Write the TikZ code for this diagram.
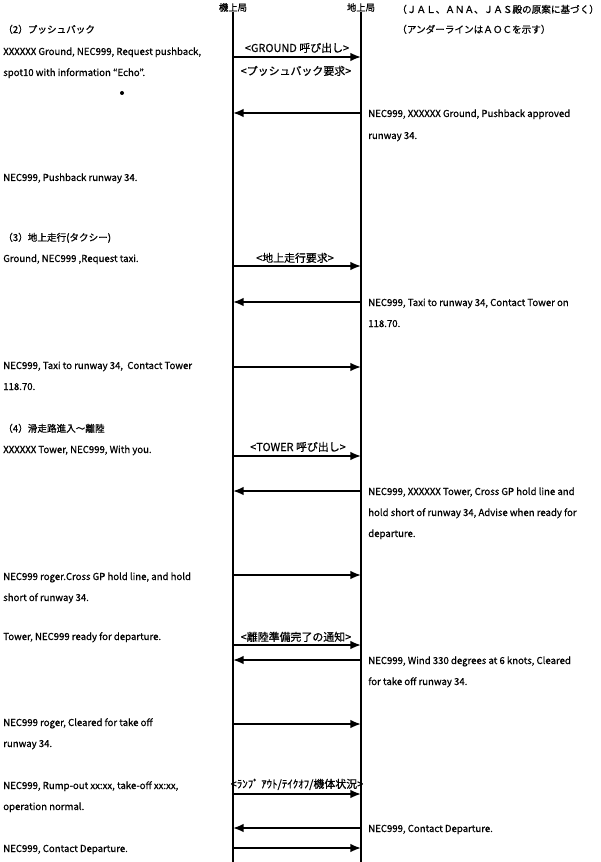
\documentclass[tikz,border=0pt]{standalone}
\usepackage{fontspec}
\setmainfont{Noto Sans CJK JP}[FakeBold=0.7]
\usetikzlibrary{arrows.meta}

\begin{document}
\begin{tikzpicture}[x=0.75pt,y=-0.75pt,
  txt/.style={anchor=base west,inner sep=0pt,font=\fontsize{7.2pt}{8pt}\selectfont},
  lbl/.style={anchor=base,inner sep=0pt,font=\fontsize{8.2pt}{9pt}\selectfont},
  head/.style={anchor=base,inner sep=0pt,font=\fontsize{7pt}{8pt}\selectfont},
  life/.style={line width=1.2pt},
  sig/.style={line width=1.4pt,-{Latex[length=8pt,width=6.5pt]}}]

\useasboundingbox (0,0) rectangle (600,862);

% Stations
\node[head] (air) at (233,11) {機上局};
\node[head] (gnd) at (361,11) {地上局};
\node[txt] (note1) at (397,13) {（ＪＡＬ、ＡＮＡ、ＪＡＳ殿の原案に基づく）};
\node[txt] (note2) at (397,33) {（アンダーラインはＡＯＣを示す）};

% Lifelines
\draw[life] (air.south) -- (air.south |- 0,862);
\draw[life] (gnd.south) -- (gnd.south |- 0,862);

% (2) Pushback
\node[txt] (h2) at (3,33) {（2）プッシュバック};
\node[txt] (m1a) at (3,55) {XXXXXX Ground, NEC999, Request pushback,};
\node[txt] (m1b) at (3,76) {spot10 with information “Echo”.};
\fill (122,93) circle (2);
\node[lbl] (l1) at (297,52) {<GROUND 呼び出し>};
\draw[sig] (air |- 0,57) -- (gnd |- 0,57);
\node[lbl] (l2) at (296,75) {<プッシュバック要求>};

\draw[sig] (gnd |- 0,113) -- (air |- 0,113);
\node[txt] (m2a) at (368,117) {NEC999, XXXXXX Ground, Pushback approved};
\node[txt] (m2b) at (368,139) {runway 34.};

\node[txt] (m3) at (3,181) {NEC999, Pushback runway 34.};

% (3) Taxi
\node[txt] (h3) at (3,241) {（3）地上走行(タクシー)};
\node[txt] (m4) at (3,262) {Ground, NEC999 ,Request taxi.};
\node[lbl] (l3) at (295,262) {<地上走行要求>};
\draw[sig] (air |- 0,266) -- (gnd |- 0,266);

\draw[sig] (gnd |- 0,302) -- (air |- 0,302);
\node[txt] (m5a) at (368,306) {NEC999, Taxi to runway 34, Contact Tower on};
\node[txt] (m5b) at (368,327) {118.70.};

\node[txt] (m6a) at (3,369) {NEC999, Taxi to runway 34,\ \ Contact Tower};
\node[txt] (m6b) at (3,390) {118.70.};
\draw[sig] (air |- 0,367) -- (gnd |- 0,367);

% (4) Line up - take off
\node[txt] (h4) at (3,432) {（4）滑走路進入～離陸};
\node[txt] (m7) at (3,453) {XXXXXX Tower, NEC999, With you.};
\node[lbl] (l4) at (298,451) {<TOWER 呼び出し>};
\draw[sig] (air |- 0,456) -- (gnd |- 0,456);

\draw[sig] (gnd |- 0,491) -- (air |- 0,491);
\node[txt] (m8a) at (368,495) {NEC999, XXXXXX Tower, Cross GP hold line and};
\node[txt] (m8b) at (368,516) {hold short of runway 34, Advise when ready for};
\node[txt] (m8c) at (368,537) {departure.};

\node[txt] (m9a) at (3,580) {NEC999 roger.Cross GP hold line, and hold};
\node[txt] (m9b) at (3,601) {short of runway 34.};
\draw[sig] (air |- 0,575) -- (gnd |- 0,575);

\node[txt] (m10) at (3,640) {Tower, NEC999 ready for departure.};
\node[lbl] (l5) at (296,641) {<離陸準備完了の通知>};
\draw[sig] (air |- 0,645) -- (gnd |- 0,645);

\draw[sig] (gnd |- 0,660) -- (air |- 0,660);
\node[txt] (m11a) at (368,664) {NEC999, Wind 330 degrees at 6 knots, Cleared};
\node[txt] (m11b) at (368,685) {for take off runway 34.};

\node[txt] (m12a) at (3,726) {NEC999 roger, Cleared for take off};
\node[txt] (m12b) at (3,747) {runway 34.};
\draw[sig] (air |- 0,724) -- (gnd |- 0,724);

\node[txt] (m13a) at (3,789) {NEC999, Rump-out xx:xx, take-off xx:xx,};
\node[txt] (m13b) at (3,810) {operation normal.};
\node[lbl] (l6) at (297,788) {<ﾗﾝﾌﾟ ｱｳﾄ/ﾃｲｸｵﾌ/機体状況>};
\draw[sig] (air |- 0,794) -- (gnd |- 0,794);

\draw[sig] (gnd |- 0,828) -- (air |- 0,828);
\node[txt] (m14) at (368,832) {NEC999, Contact Departure.};

\node[txt] (m15) at (3,852) {NEC999, Contact Departure.};
\draw[sig] (air |- 0,848) -- (gnd |- 0,848);

\end{tikzpicture}
\end{document}
